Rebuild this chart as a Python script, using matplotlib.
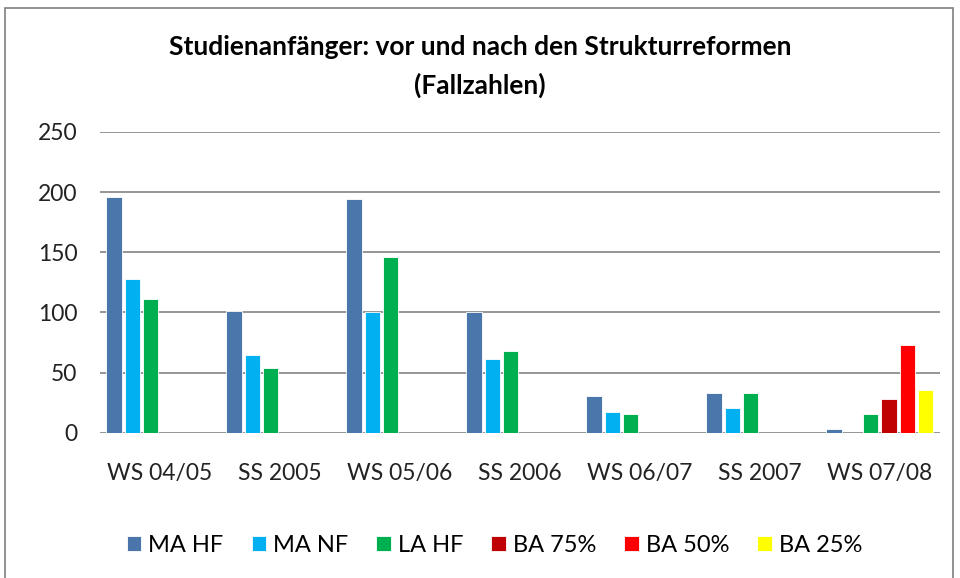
import numpy as np
import matplotlib.pyplot as plt
from matplotlib.patches import Rectangle

plt.rcParams['font.family'] = ['Lato', 'DejaVu Sans']

semester = ["WS 04/05", "SS 2005", "WS 05/06", "SS 2006", "WS 06/07", "SS 2007", "WS 07/08"]
ma_hf = [196, 101, 194, 100, 31, 33, 3]
ma_nf = [128, 65, 100, 61, 17, 21, 0]
la_hf = [111, 54, 146, 68, 16, 33, 16]
ba_75 = [0, 0, 0, 0, 0, 0, 28]
ba_50 = [0, 0, 0, 0, 0, 0, 73]
ba_25 = [0, 0, 0, 0, 0, 0, 36]

series = [("MA HF", ma_hf, "#4a76ac"), ("MA NF", ma_nf, "#00b0f0"), ("LA HF", la_hf, "#00b050"),
          ("BA 75%", ba_75, "#c00000"), ("BA 50%", ba_50, "#ff0000"), ("BA 25%", ba_25, "#ffff00")]

fig = plt.figure(figsize=(9.6, 5.78), dpi=100)
ax = fig.add_axes([0.104, 0.251, 0.875, 0.521])

x = np.arange(len(semester))
slot = 0.153   # each bar slot, 6 slots nearly fill the category
for i, (name, vals, col) in enumerate(series):
    pos = x + (i - 2.5) * slot
    ax.bar(pos, vals, width=0.128, color=col, edgecolor="white", linewidth=0.6, label=name, zorder=3)

ax.set_xlim(-0.5, len(semester) - 0.5)
ax.set_ylim(0, 250)
ax.set_yticks(range(0, 251, 50))
ax.set_xticks(x)
ax.set_xticklabels(semester)
ax.tick_params(length=0, labelsize=16.5, colors="#222222")
ax.tick_params(axis="x", pad=22)
ax.tick_params(axis="y", pad=16)
ax.grid(axis="y", color="#8c8c8c", lw=1.3, zorder=0)
for s in ax.spines.values():
    s.set_visible(False)

fig.text(0.5, 0.918, "Studienanfänger: vor und nach den Strukturreformen", ha="center",
         va="center", fontsize=19, fontweight="bold")
fig.text(0.5, 0.852, "(Fallzahlen)", ha="center", va="center", fontsize=19, fontweight="bold")

fig.legend(loc="center", bbox_to_anchor=(0.515, 0.057), ncol=6, frameon=False, fontsize=17,
           handlelength=0.6, handleheight=0.6, handletextpad=0.3, columnspacing=1.2)

fig.patches.append(Rectangle((0.005, -0.01), 0.988, 0.997, transform=fig.transFigure,
                             fill=False, edgecolor="#7f7f7f", lw=1.2))

plt.savefig("out.png", dpi=100)
